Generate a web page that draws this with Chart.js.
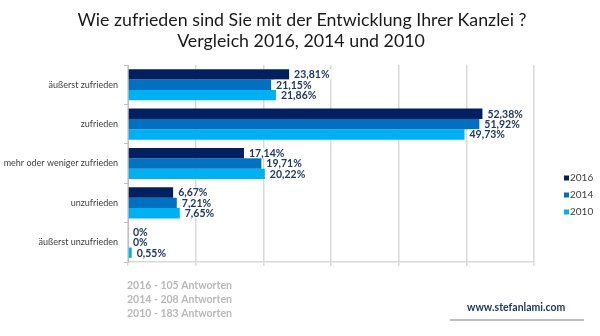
<!DOCTYPE html>
<html>
<head>
<meta charset="utf-8">
<script src="https://cdn.jsdelivr.net/npm/chart.js@4/dist/chart.umd.min.js"></script>
<style>
  html, body { margin: 0; padding: 0; background: #ffffff; }
  #wrap { width: 600px; height: 336px; position: relative; }
</style>
</head>
<body>
<div id="wrap"><canvas id="satisfaction"></canvas></div>
<script>
const categories = [
    "äußerst zufrieden",
    "zufrieden",
    "mehr oder weniger zufrieden",
    "unzufrieden",
    "äußerst unzufrieden"
];

const years = ["2016", "2014", "2010"];

const values2016 = [23.81, 52.38, 17.14, 6.67, 0];
const values2014 = [21.15, 51.92, 19.71, 7.21, 0];
const values2010 = [21.86, 49.73, 20.22, 7.65, 0.55];

const responses = [
    "2016 - 105 Antworten",
    "2014 - 208 Antworten",
    "2010 - 183 Antworten"
];

const titleLines = [
    "Wie zufrieden sind Sie mit der Entwicklung Ihrer Kanzlei ?",
    "Vergleich 2016, 2014 und 2010"
];

const colors = ["#002060", "#0070c0", "#00b0f0"];

Chart.defaults.font.family = "Lato, 'Open Sans', sans-serif";

function pct(v) {
    if (v === 0) return "0%";
    return v.toFixed(2).replace(".", ",") + "%";
}

// value labels with a white box behind them
const barLabels = {
    id: "barLabels",
    afterDatasetsDraw(chart) {
        const ctx = chart.ctx;
        ctx.save();
        ctx.font = "bold 10.5px Lato, sans-serif";
        ctx.textBaseline = "middle";
        ctx.textAlign = "left";
        chart.data.datasets.forEach((ds, i) => {
            const meta = chart.getDatasetMeta(i);
            meta.data.forEach((bar, j) => {
                const txt = pct(ds.data[j]);
                const w = ctx.measureText(txt).width;
                const x = bar.x + 5;
                ctx.fillStyle = "#ffffff";
                ctx.fillRect(x - 2, bar.y - 5, w + 4, 10);
                ctx.fillStyle = "#1f3864";
                ctx.fillText(txt, x, bar.y + 0.5);
            });
        });
        ctx.restore();
    }
};

// title, legend, footnotes and the web address
const decorations = {
    id: "decorations",
    afterDraw(chart) {
        const ctx = chart.ctx;
        ctx.save();

        ctx.fillStyle = "#1a1a1a";
        ctx.font = "17.8px Lato, sans-serif";
        ctx.textAlign = "center";
        ctx.textBaseline = "alphabetic";
        ctx.fillText(titleLines[0], 302, 26);
        ctx.fillText(titleLines[1], 301, 47);

        ctx.textAlign = "left";
        ctx.textBaseline = "middle";
        ctx.font = "10px Lato, sans-serif";
        chart.data.datasets.forEach((ds, i) => {
            const y = 178 + i * 17;
            ctx.fillStyle = ds.backgroundColor;
            ctx.fillRect(564, y - 2.5, 5, 5);
            ctx.fillStyle = "#404040";
            ctx.fillText(ds.label, 570, y);
        });

        ctx.font = "bold 10.5px Lato, sans-serif";
        ctx.fillStyle = "#b8b8b8";
        responses.forEach((t, i) => {
            ctx.fillText(t, 127, 286 + i * 14);
        });

        ctx.fillStyle = "#1f3864";
        ctx.fillText("www.stefanlami.com", 467, 308);
        ctx.fillStyle = "#c0c0c0";
        ctx.fillRect(450, 319, 134, 2);

        ctx.restore();
    }
};

new Chart(document.getElementById("satisfaction"), {
    type: "bar",
    data: {
        labels: categories,
        datasets: [
            { label: years[0], data: values2016, backgroundColor: colors[0] },
            { label: years[1], data: values2014, backgroundColor: colors[1] },
            { label: years[2], data: values2010, backgroundColor: colors[2] }
        ]
    },
    options: {
        indexAxis: "y",
        responsive: true,
        maintainAspectRatio: false,
        animation: false,
        datasets: {
            bar: {
                categoryPercentage: 0.79,
                barPercentage: 1.0,
                borderWidth: 0
            }
        },
        layout: {
            padding: { left: 0, right: 66, top: 65, bottom: 70 }
        },
        scales: {
            x: {
                min: 0,
                max: 60,
                ticks: { display: false, stepSize: 10 },
                grid: {
                    color: "#d9d9d9",
                    lineWidth: 1.5,
                    drawTicks: true,
                    tickLength: 4
                },
                border: { color: "#d9d9d9", width: 1.5 },
                afterFit(scale) { scale.height = 4; }
            },
            y: {
                ticks: {
                    color: "#404040",
                    font: { size: 9 },
                    padding: 6
                },
                grid: {
                    drawOnChartArea: false,
                    drawTicks: true,
                    tickLength: 4,
                    color: "#bfbfbf"
                },
                border: { color: "#bfbfbf" },
                afterFit(scale) { scale.width = 128; }
            }
        },
        plugins: {
            legend: { display: false },
            tooltip: { enabled: false }
        }
    },
    plugins: [barLabels, decorations]
});
</script>
</body>
</html>
